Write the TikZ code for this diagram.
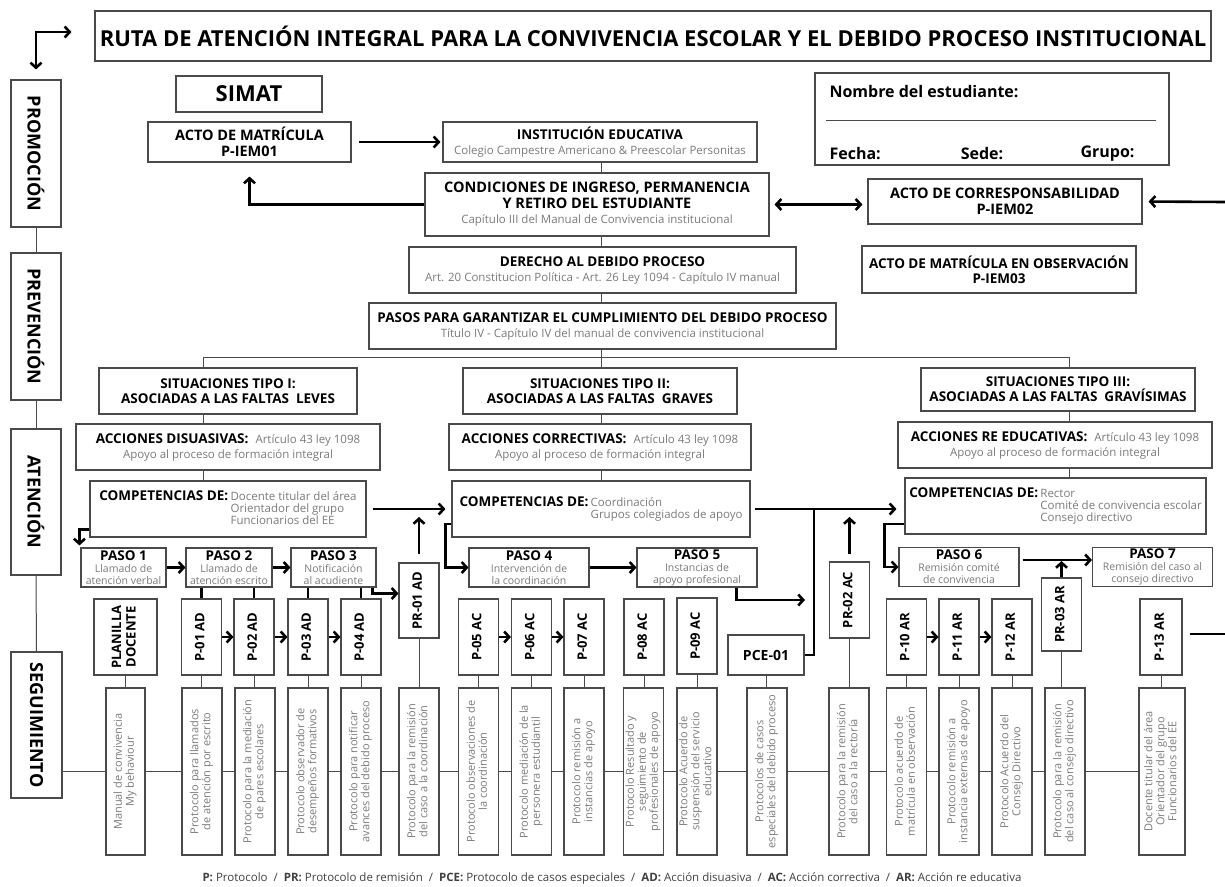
\documentclass[tikz,border=0pt]{standalone}
\usepackage{fontspec}
\setmainfont{Open Sans}
\usetikzlibrary{arrows.meta,calc}

\definecolor{edge}{HTML}{4A4A4A}
\definecolor{soft}{HTML}{7B7B7B}
\newcommand{\gtext}[1]{{\mdseries\color{soft}\fontsize{11.5}{13}\selectfont #1}}
\newcommand{\gsm}[1]{{\mdseries\color{soft}\fontsize{10.5}{10.5}\selectfont #1}}
\newcommand{\upt}[1]{\rotatebox{90}{\begin{tabular}{@{}c@{}}#1\end{tabular}}}

\begin{document}
\begin{tikzpicture}[x=1pt,y=-1pt,
  box/.style={draw=edge,line width=1.1pt,fill=white,inner sep=0pt,align=center},
  sz/.style 2 args={minimum width=#1pt,minimum height=#2pt},
  hd/.style={font=\bfseries\fontsize{13.5}{15}\selectfont},
  big/.style={font=\bfseries\fontsize{14.5}{15.5}\selectfont},
  side/.style={box,sz={50}{147},font=\bfseries\fontsize{18}{20}\selectfont},
  pbox/.style={box,sz={40}{76},font=\bfseries\fontsize{13}{14.5}\selectfont},
  dbox/.style={box,sz={40}{167},text=soft,font=\fontsize{11}{12}\selectfont},
  paso/.style={box,sz={120}{39},font=\bfseries\fontsize{13.5}{12}\selectfont},
  link/.style={draw=edge,line width=1pt},
  barb/.tip={Straight Barb[length=5pt,width=11pt]},
  thk/.style={line width=2.6pt},
  arr/.style={thk,-barb},
  dbl/.style={thk,barb-barb}]
\useasboundingbox (0,0) rectangle (1225,886);

% header
\node[box,sz={1116}{50},font=\bfseries\fontsize{22}{26}\selectfont] (title) at (653,36)
  {RUTA DE ATENCIÓN INTEGRAL PARA LA CONVIVENCIA ESCOLAR Y EL DEBIDO PROCESO INSTITUCIONAL};

% stages
\node[side] (prom) at (36,153.5) {\rotatebox{-90}{PROMOCIÓN}};
\node[side] (prev) at (36,326.5) {\rotatebox{-90}{PREVENCIÓN}};
\node[side,sz={50}{146}] (aten) at (36,502) {\rotatebox{-90}{ATENCIÓN}};
\node[side,sz={51}{146}] (segu) at (36.5,725) {\rotatebox{-90}{SEGUIMIENTO}};
\draw[dbl] ($(prom.north)+(0,-10)$) |- ($(title.west)+(-23,-4)$);
\draw[link] (prom) -- (prev);
\draw[link] (prev) -- (aten);
\draw[link] (aten) -- (segu);

% matricula
\node[box,sz={146}{36},font=\bfseries\fontsize{22}{26}\selectfont] (simat) at (249,94) {SIMAT};
\node[box,big,sz={203}{40}] (acto1) at (249.5,142) {ACTO DE MATRÍCULA\\P-IEM01};
\node[box,hd,sz={314}{40}] (inst) at (600,142)
  {INSTITUCIÓN EDUCATIVA\\\gtext{Colegio Campestre Americano \& Preescolar Personitas}};
\node[box,big,sz={344}{63}] (cond) at (597,204.5)
  {CONDICIONES DE INGRESO, PERMANENCIA\\Y RETIRO DEL ESTUDIANTE\\\gtext{Capítulo III del Manual de Convivencia institucional}};
\node[box,big,sz={274}{45}] (corr) at (1005,201.5) {ACTO DE CORRESPONSABILIDAD\\P-IEM02};
\node[box,sz={354}{92}] (ficha) at (992,119) {};
\node[font=\bfseries\fontsize{16}{18}\selectfont,anchor=west] (nombre) at (826,92) {Nombre del estudiante:};
\node[font=\bfseries\fontsize{16}{18}\selectfont,anchor=west] (fecha) at (826,154) {Fecha:};
\node[font=\bfseries\fontsize{16}{18}\selectfont] (sede) at (982,154) {Sede:};
\node[font=\bfseries\fontsize{16}{18}\selectfont,anchor=east] (grupo) at (1138,154) {Grupo:};
\draw[link] ($(ficha.west)+(12,1)$) -- ($(ficha.east)+(-14,1)$);

\draw[arr,shorten <=7pt,shorten >=2pt] (acto1.east) -- (inst.west);
\draw[arr,shorten >=14pt] (cond.west) -| (acto1.south);
\draw[dbl,shorten <=5pt,shorten >=5pt] (cond.east) -- (cond.east -| corr.west);
\coordinate (redge) at (1225,202);
\draw[arr,shorten >=6pt] (redge) -- (corr.east);

% debido proceso
\node[box,hd,sz={387}{46}] (derecho) at (602.5,270)
  {DERECHO AL DEBIDO PROCESO\\\gtext{Art. 20 Constitucion Política - Art. 26 Ley 1094 - Capítulo IV manual}};
\node[box,hd,sz={274}{47}] (obs) at (999,269.5) {ACTO DE MATRÍCULA EN OBSERVACIÓN\\P-IEM03};
\node[box,hd,sz={467}{46}] (pasos) at (602.5,326)
  {PASOS PARA GARANTIZAR EL CUMPLIMIENTO DEL DEBIDO PROCESO\\\gtext{Título IV - Capítulo IV del manual de convivencia institucional}};

% situaciones
\node[box,hd,sz={258}{46}] (tipo1) at (228,391) {SITUACIONES TIPO I:\\ASOCIADAS A LAS FALTAS\ \ LEVES};
\node[box,hd,sz={274}{46}] (tipo2) at (600,391) {SITUACIONES TIPO II:\\ASOCIADAS A LAS FALTAS\ \ GRAVES};
\node[box,hd,sz={274}{43}] (tipo3) at (1058,389.5) {SITUACIONES TIPO III:\\ASOCIADAS A LAS FALTAS\ \ GRAVÍSIMAS};
\node[box,hd,sz={304}{46}] (acc1) at (228,447)
  {ACCIONES DISUASIVAS:\ \ \gtext{Artículo 43 ley 1098}\\\gtext{Apoyo al proceso de formación integral}};
\node[box,hd,sz={302}{46}] (acc2) at (600,447)
  {ACCIONES CORRECTIVAS:\ \ \gtext{Artículo 43 ley 1098}\\\gtext{Apoyo al proceso de formación integral}};
\node[box,hd,sz={314}{46}] (acc3) at (1055,445)
  {ACCIONES RE EDUCATIVAS:\ \ \gtext{Artículo 43 ley 1098}\\\gtext{Apoyo al proceso de formación integral}};
\node[box,hd,sz={276}{56}] (comp1) at (228,509)
  {\begin{tabular}{@{}l@{\,}l@{}}COMPETENCIAS DE: & \gtext{Docente titular del área}\\[-3pt]
   & \gtext{Orientador del grupo}\\[-3pt] & \gtext{Funcionarios del EE}\end{tabular}};
\node[box,hd,sz={298}{56}] (comp2) at (601,509)
  {\begin{tabular}{@{}l@{\,}l@{}}COMPETENCIAS DE: & \gtext{Coordinación}\\[-3pt]
   & \gtext{Grupos colegiados de apoyo}\end{tabular}};
\node[box,hd,sz={301}{56}] (comp3) at (1055.5,506)
  {\begin{tabular}{@{}l@{\,}l@{}}COMPETENCIAS DE: & \gtext{Rector}\\[-3pt]
   & \gtext{Comité de convivencia escolar}\\[-3pt] & \gtext{Consejo directivo}\end{tabular}};

\coordinate (spine) at (601,0);
\coordinate (bl) at (203,357);
\coordinate (br) at (1069,357);
\draw[link] (spine |- inst.south) -- (spine |- cond.north);
\draw[link] (spine |- cond.south) -- (spine |- derecho.north);
\draw[link] (spine |- derecho.south) -- (spine |- pasos.north);
\draw[link] (spine |- pasos.south) -- (spine |- tipo2.north);
\draw[link] (bl) -- (br);
\draw[link] (bl) -- (bl |- tipo1.north);
\draw[link] (br) -- (br |- tipo3.north);
\foreach \c/\a/\b/\d in {bl/tipo1/acc1/comp1, spine/tipo2/acc2/comp2, br/tipo3/acc3/comp3} {
  \draw[link] (\c |- \a.south) -- (\c |- \b.north);
  \draw[link] (\c |- \b.south) -- (\c |- \d.north);
}

% pasos
\node[paso,sz={85}{39}] (paso1) at (123.5,567.5) {PASO 1\\\gsm{Llamado de}\\\gsm{atención verbal}};
\node[paso,sz={86}{39}] (paso2) at (229,567.5) {PASO 2\\\gsm{Llamado de}\\\gsm{atención escrito}};
\node[paso,sz={85}{39}] (paso3) at (333.5,567.5) {PASO 3\\\gsm{Notificación}\\\gsm{al acudiente}};
\node[paso] (paso4) at (529,567.5) {PASO 4\\\gsm{Intervención de}\\\gsm{la coordinación}};
\node[paso] (paso5) at (697,567.5) {PASO 5\\\gsm{Instancias de}\\\gsm{apoyo profesional}};
\node[paso] (paso6) at (959,567) {PASO 6\\\gsm{Remisión comité}\\\gsm{de convivencia}};
\node[paso] (paso7) at (1152.5,567) {PASO 7\\\gsm{Remisión del caso al}\\\gsm{consejo directivo}};

% protocolos
\node[pbox,sz={63}{76}] (planilla) at (125.5,637) {\upt{PLANILLA\\DOCENTE}};
\node[pbox] (p01) at (201.5,637) {\upt{P-01 AD}};
\node[pbox] (p02) at (254,637) {\upt{P-02 AD}};
\node[pbox] (p03) at (308,637) {\upt{P-03 AD}};
\node[pbox] (p04) at (361,637) {\upt{P-04 AD}};
\node[pbox,sz={40}{75}] (pr01) at (419,600.5) {\upt{PR-01 AD}};
\node[pbox] (p05) at (478.5,637) {\upt{P-05 AC}};
\node[pbox] (p06) at (531.5,637) {\upt{P-06 AC}};
\node[pbox] (p07) at (584,637) {\upt{P-07 AC}};
\node[pbox] (p08) at (644,637) {\upt{P-08 AC}};
\node[pbox] (p09) at (697,636) {\upt{P-09 AC}};
\node[pbox,sz={76}{40},font=\bfseries\fontsize{14}{16}\selectfont] (pce) at (766,655) {PCE-01};
\node[pbox] (pr02) at (849.5,600) {\upt{PR-02 AC}};
\node[pbox] (p10) at (906.5,637) {\upt{P-10 AR}};
\node[pbox] (p11) at (959,637) {\upt{P-11 AR}};
\node[pbox] (p12) at (1012,637) {\upt{P-12 AR}};
\node[pbox,sz={40}{73}] (pr03) at (1061.5,614.5) {\upt{PR-03 AR}};
\node[pbox,sz={42}{76}] (p13) at (1161,637) {\upt{P-13 AR}};

% descripciones
\node[dbox,sz={39}{167}] (dman) at (125.5,771.5) {\upt{Manual de convivencia\\My behaviour}};
\node[dbox] (d01) at (202,771.5) {\upt{Protocolo para llamados\\de atención por escrito}};
\node[dbox] (d02) at (255,771.5) {\upt{Protocolo para la mediación\\de pares escolares}};
\node[dbox] (d03) at (308,771.5) {\upt{Protocolo observador de\\desempeños formativos}};
\node[dbox] (d04) at (361,771.5) {\upt{Protocolo para notificar\\avances del debido proceso}};
\node[dbox] (dpr01) at (419,771.5) {\upt{Protocolo para la remisión\\del caso a la coordinación}};
\node[dbox] (d05) at (478.5,771.5) {\upt{Protocolo observaciones de\\la coordinación}};
\node[dbox] (d06) at (531.5,771.5) {\upt{Protocolo mediación de la\\personera estudiantil}};
\node[dbox] (d07) at (584,771.5) {\upt{Protocolo remisión a\\instancias de apoyo}};
\node[dbox] (d08) at (643.5,771.5) {\upt{Protocolo Resultado y\\seguimiento de\\profesionales de apoyo}};
\node[dbox] (d09) at (697,771.5) {\upt{Protocolo Acuerdo de\\suspensión del servicio\\educativo}};
\node[dbox] (dpce) at (767,771.5) {\upt{Protocolos de casos\\especiales del debido proceso}};
\node[dbox] (dpr02) at (849,771.5) {\upt{Protocolo para la remisión\\del caso a la rectoría}};
\node[dbox] (d10) at (906.5,771.5) {\upt{Protocolo acuerdo de\\matrícula en observación}};
\node[dbox] (d11) at (959,771.5) {\upt{Protocolo remisión a\\instancia externas de apoyo}};
\node[dbox] (d12) at (1012,771.5) {\upt{Protocolo Acuerdo del\\Consejo Directivo}};
\node[dbox] (dpr03) at (1065,771.5) {\upt{Protocolo para la remisión\\del caso al consejo directivo}};
\node[dbox,sz={46}{167}] (d13) at (1162,771.5) {\upt{Docente titular del área\\Orientador del grupo\\Funcionarios del EE}};

\draw[link] (dman.west -| segu.east) -- (dman.west);
\foreach \a/\b in {dman/d01,d01/d02,d02/d03,d03/d04,d04/dpr01,dpr01/d05,d05/d06,d06/d07,
  d07/d08,d08/d09,d09/dpce,dpce/dpr02,dpr02/d10,d10/d11,d11/d12,d12/dpr03,dpr03/d13}
  \draw[link] (\a.east) -- (\b.west);
\foreach \a/\b in {planilla/dman,p01/d01,p02/d02,p03/d03,p04/d04,pr01/dpr01,p05/d05,p06/d06,
  p07/d07,p08/d08,p09/d09,pce/dpce,pr02/dpr02,p10/d10,p11/d11,p12/d12,pr03/dpr03,p13/d13}
  \draw[link] (\a.south) -- (\a.south |- \b.north);

% flechas de la ruta
\draw[arr,shorten <=6pt,shorten >=6pt] (comp1.east) -- (comp1.east -| comp2.west);
\draw[arr,shorten <=4pt,shorten >=8pt] (comp2.east) -- (comp2.east -| comp3.west);
\draw[arr] ($(comp1.south west)+(0,-8)$) -| ($(paso1.north west)+(-1,-2)$);
\draw[arr] (paso1) -- (paso2);
\draw[arr] (paso2) -- (paso3);
\draw[arr] ($(paso3.south east)+(-4,0)$) |- ($(pr01.west)+(0,-7)$);
\draw[arr,shorten <=8pt,shorten >=8pt] (pr01.north) -- (pr01.north |- comp1.east);
\draw[arr] ($(comp2.west)+(0,15)$) -- ++(-6,0) |- (paso4.west);
\draw[arr] (paso4) -- (paso5);
\coordinate (jx) at (814,509);
\draw[arr,shorten >=9pt] ($(paso5.south east)+(-21,0)$) |- (jx |- 0,600);
\draw[thk] (pce.east) -| (jx);
\draw[arr,shorten <=7pt,shorten >=8pt] (pr02.north) -- (pr02.north |- comp2.east);
\draw[arr] ($(comp3.west)+(0,18)$) -- ++(-20,0) |- (paso6.west);
\draw[arr,shorten <=3pt] ($(paso6.east)+(0,-7)$) -- ($(paso7.west)+(0,-7)$);
\draw[arr] (pr03.north) -- (pr03.north |- 0,561);
\draw[thk] ($(p13.east)+(7,-3)$) -- ++(37,0);
\foreach \a/\b in {paso2/p01,paso2/p02,paso3/p03,paso3/p04}
  \draw[thk] (\b.north |- \a.south) -- (\b.north);
\foreach \a/\b in {p01/p02,p02/p03,p03/p04,p05/p06,p06/p07,p10/p11,p11/p12}
  \draw[arr] (\a) -- (\b);

% leyenda
\node[font=\fontsize{11.5}{13}\selectfont,text=black!75] (leyenda) at (612,878)
  {\textbf{P:} Protocolo\ \ /\ \ \textbf{PR:} Protocolo de remisión\ \ /\ \ \textbf{PCE:} Protocolo de casos especiales\ \ /\ \ \textbf{AD:} Acción disuasiva\ \ /\ \ \textbf{AC:} Acción correctiva\ \ /\ \ \textbf{AR:} Acción re educativa};
\end{tikzpicture}
\end{document}
